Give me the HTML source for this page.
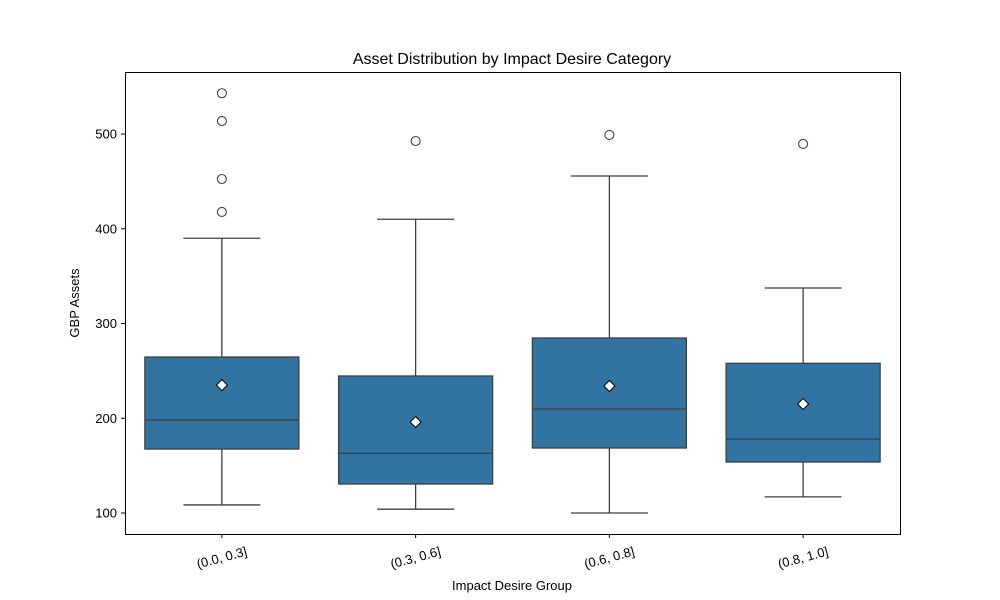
<!DOCTYPE html>
<html><head><meta charset="utf-8"><style>
body{margin:0;background:#fff;}
svg{display:block;font-family:"Liberation Sans","DejaVu Sans",sans-serif;}
</style></head><body>
<svg id="chart" width="1000" height="600">
<rect width="1000" height="600" fill="#fff"/>
<text x="512" y="64" text-anchor="middle" font-size="16">Asset Distribution by Impact Desire Category</text>
<text x="512" y="590" text-anchor="middle" font-size="13">Impact Desire Group</text>
<text transform="translate(79,303) rotate(-90)" text-anchor="middle" font-size="13">GBP Assets</text>
<g id="marks"></g>
<rect x="125.5" y="72.5" width="775" height="462" fill="none" stroke="#000" stroke-width="1"/>
</svg>
<script>
const categories=["(0.0, 0.3]","(0.3, 0.6]","(0.6, 0.8]","(0.8, 1.0]"];
const whiskerLow=[108.5,104,100,117];
const q1=[167.5,130.6,168.6,153.8];
const medians=[198,163,209.8,178];
const q3=[264.6,244.6,284.7,258];
const whiskerHigh=[390,410,455.7,337.5];
const means=[235,196,234,215];
const outliers=[[417.7,452.5,513.7,543],[492.6],[499],[489.5]];
const yTicks=[100,200,300,400,500];

const NS="http://www.w3.org/2000/svg";
const L=125,R=900,T=72,B=534;
const y=v=>513-(v-100)*0.9475;
const band=(R-L)/categories.length;
const x=i=>L+band*(i+0.5);
const g=document.getElementById('marks');
const svg=document.getElementById('chart');
function mk(tag,attrs,parent){const e=document.createElementNS(NS,tag);for(const k in attrs)e.setAttribute(k,attrs[k]);(parent||g).appendChild(e);return e;}

yTicks.forEach(t=>{
  const tk=mk('line',{x1:L-4,x2:L,y1:y(t),y2:y(t),stroke:'#000'},svg);
  
  
  const lb=mk('text',{x:L-8,y:y(t)+4.5,'text-anchor':'end','font-size':13},svg);
  lb.textContent=t;
  
  
});
const col='#3f3f3f',bw=154;
categories.forEach((c,i)=>{
  const cx=x(i);
  const tk=mk('line',{x1:cx,x2:cx,y1:B,y2:B+4,stroke:'#000'},svg);
  
  
  const lb=mk('text',{x:cx,y:B+28,'text-anchor':'middle','font-size':13,transform:`rotate(-15 ${cx} ${B+24})`},svg);
  lb.textContent=c;
  
  
  const w1=mk('line',{x1:cx,x2:cx,y1:y(whiskerLow[i]),y2:y(q1[i]),stroke:col,'stroke-width':1.3});
  
  
  const w2=mk('line',{x1:cx,x2:cx,y1:y(q3[i]),y2:y(whiskerHigh[i]),stroke:col,'stroke-width':1.3});
  
  
  [whiskerLow[i],whiskerHigh[i]].forEach(v=>{
    const cap=mk('line',{x1:cx-bw/4,x2:cx+bw/4,y1:y(v),y2:y(v),stroke:col,'stroke-width':1.3});
    
    
  });
  const box=mk('rect',{x:cx-bw/2,y:y(q3[i]),width:bw,height:y(q1[i])-y(q3[i]),fill:'#3274a1',stroke:col,'stroke-width':1.3});
  
  
  const md=mk('line',{x1:cx-bw/2,x2:cx+bw/2,y1:y(medians[i]),y2:y(medians[i]),stroke:col,'stroke-width':1.3});
  
  
  const my=y(means[i]);
  const mn=mk('polygon',{points:`${cx},${my-5.5} ${cx+5.5},${my} ${cx},${my+5.5} ${cx-5.5},${my}`,fill:'#fff',stroke:'#000','stroke-width':1});
  
  
  outliers[i].forEach(v=>{
    const o=mk('circle',{cx:cx,cy:y(v),r:4.5,fill:'none',stroke:col,'stroke-width':1.1});
    
    
  });
});
</script>
</body></html>
